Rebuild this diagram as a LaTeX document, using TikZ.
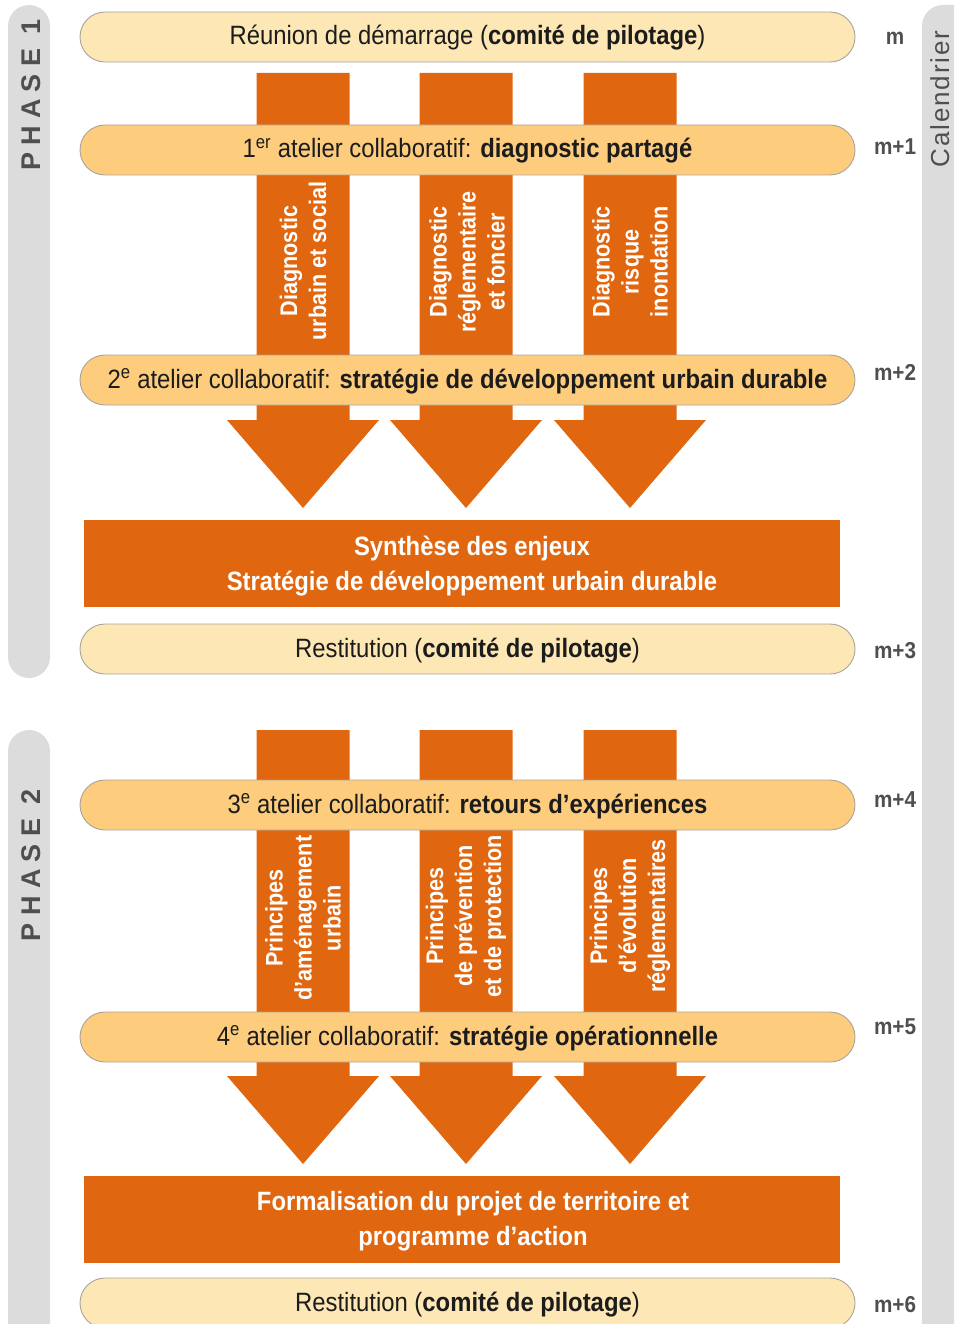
\documentclass[tikz,border=0pt]{standalone}
\usepackage{fontspec}
\setmainfont{Liberation Sans}[FakeStretch=0.9]
\newfontfamily\widefont{Liberation Sans}
\definecolor{orng}{HTML}{E0660F}
\definecolor{pilllight}{HTML}{FDE7B5}
\definecolor{pilldark}{HTML}{FDCD7D}
\definecolor{pillline}{HTML}{A8A39A}
\definecolor{barg}{HTML}{DCDCDC}
\definecolor{txtg}{HTML}{4F4F4F}
\definecolor{txtd}{HTML}{1C1C1C}
\tikzset{
  pill/.style={draw=pillline, line width=0.9pt, rounded corners=25pt, minimum width=775pt, minimum height=50pt, inner sep=0pt, text height=20pt, text depth=4pt, font=\fontsize{26.5}{30}\selectfont, text=txtd},
  pilla/.style={pill, fill=pilllight},
  pillb/.style={pill, fill=pilldark},
  obox/.style={fill=orng, minimum width=756pt, minimum height=87pt, inner sep=0pt},
  otext/.style={align=center, text=white, font=\fontsize{26.5}{35}\selectfont\bfseries},
  shaftlbl/.style={rotate=90, align=center, text=white, font=\fontsize{24}{29}\selectfont\bfseries},
  month/.style={text=txtg, font=\fontsize{23}{26}\selectfont\bfseries},
  barfill/.style={fill=barg, rounded corners=21pt},
  phaselbl/.style={rotate=90, text=txtg, font=\widefont\fontsize{27}{30}\selectfont\bfseries\addfontfeature{LetterSpace=27}},
}
\begin{document}
\begin{tikzpicture}[x=1pt,y=-1pt]
\useasboundingbox (0,0) rectangle (954,1324);
\clip (0,0) rectangle (954,1324);
% gray side bars
\fill[barfill] (8,5) rectangle (50,678);
\fill[barfill] (8,730) rectangle (50,1360);
\fill[barfill] (922,5) rectangle (990,1360);
\node[phaselbl] (ph1) at (31,95) {PHASE 1};
\node[phaselbl] (ph2) at (31,865) {PHASE 2};
\node[rotate=90, anchor=base, text depth=0pt, text=txtg, font=\widefont\fontsize{26}{30}\selectfont\addfontfeature{LetterSpace=7}] (cal) at (949,99) {Calendrier};
% arrows phase 1
\foreach \cx in {303,466,630}{
  \fill[orng] (\cx-46.5,73) -- (\cx+46.5,73) -- (\cx+46.5,420) -- (\cx+76,420) -- (\cx,508) -- (\cx-76,420) -- (\cx-46.5,420) -- cycle;
}
% arrows phase 2
\foreach \cx in {303,466,630}{
  \fill[orng] (\cx-46.5,730) -- (\cx+46.5,730) -- (\cx+46.5,1076) -- (\cx+76,1076) -- (\cx,1164) -- (\cx-76,1076) -- (\cx-46.5,1076) -- cycle;
}
% pills
\node[pilla] (p1) at (467.5,37) {Réunion de démarrage (\textbf{comité de pilotage})};
\node[pillb] (p2) at (467.5,150) {1\textsuperscript{er} atelier collaboratif: \textbf{diagnostic partagé}};
\node[pillb] (p3) at (467.5,380) {2\textsuperscript{e} atelier collaboratif: \textbf{stratégie de développement urbain durable}};
\node[pilla] (p4) at (467.5,649) {Restitution (\textbf{comité de pilotage})};
\node[pillb] (p5) at (467.5,805) {3\textsuperscript{e} atelier collaboratif: \textbf{retours d’expériences}};
\node[pillb] (p6) at (467.5,1037) {4\textsuperscript{e} atelier collaboratif: \textbf{stratégie opérationnelle}};
\node[pilla] (p7) at (467.5,1303) {Restitution (\textbf{comité de pilotage})};
% shaft labels
\node[shaftlbl] (l1) at (303,261) {Diagnostic\\urbain et social};
\node[shaftlbl] (l2) at (467,262) {Diagnostic\\réglementaire\\et foncier};
\node[shaftlbl] (l3) at (630,262) {Diagnostic\\risque\\inondation};
\node[shaftlbl] (l4) at (303,918) {Principes\\d’aménagement\\urbain};
\node[shaftlbl] (l5) at (466,916) {Principes\\de prévention\\et de protection};
\node[shaftlbl] (l6) at (630,916) {Principes\\d’évolution\\réglementaires};
% orange boxes
\node[obox] (s1) at (462,563) {};
\node[otext] (s1t) at (472,566) {Synthèse des enjeux\\Stratégie de développement urbain durable};
\node[obox] (s2) at (462,1219) {};
\node[otext] (s2t) at (473,1221) {Formalisation du projet de territoire et\\programme d’action};
% months
\node[month] (m0) at (895,38) {m};
\node[month] (m1) at (895,147) {m+1};
\node[month] (m2) at (895,372) {m+2};
\node[month] (m3) at (895,651) {m+3};
\node[month] (m4) at (895,800) {m+4};
\node[month] (m5) at (895,1027) {m+5};
\node[month] (m6) at (895,1305) {m+6};
\end{tikzpicture}
\end{document}
